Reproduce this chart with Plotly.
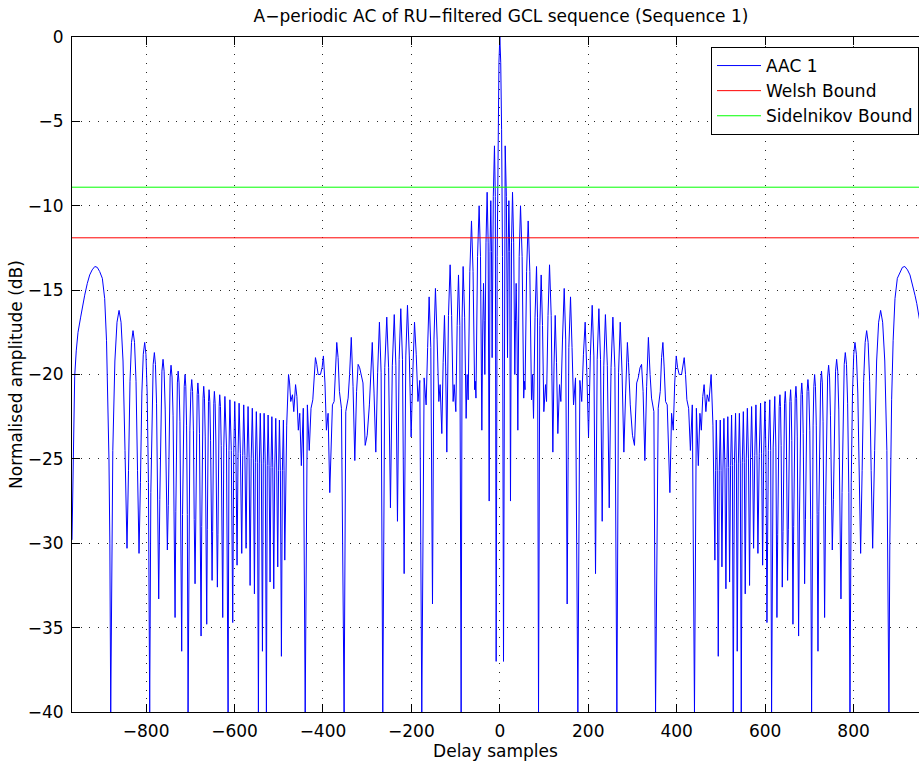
import plotly.graph_objects as go

# Right half (delay >= 0) of the aperiodic autocorrelation magnitude, read from the
# picture (peaks, nulls and lobe shoulders).  The picture is symmetric about delay 0,
# so the left half is the mirror image of these values.
delay_right = [
    0, 2, 4, 6, 8.3,
    10.2, 12.1, 14.75, 17.4,
    18.9, 20.4, 22.25, 24.1,
    26.4, 28.7, 31.3, 33.9,
    35.4, 36.9, 38.8, 40.7,
    43.75, 46.8, 50.4, 54.0, 55.5, 57.0,
    60.55, 64.1, 67.85, 71.6, 73.9, 76.2,
    79.6, 83.0, 85.25, 87.5,
    90.5, 93.5, 96.5, 99.5, 103.3, 105.6,
    109.0, 112.4, 116.15, 119.9,
    122.55, 125.2, 128.2, 131.2, 135.0, 138.0,
    141.8, 145.6, 148.95, 152.3,
    156.1, 159.9, 163.3, 166.7, 171.2, 176.5, 181.0, 185.2,
    189.1, 193.0, 196.8, 200.6,
    204.75, 208.9, 212.65, 216.4,
    220.2, 224.0, 227.75, 231.5,
    235.15, 238.8, 243.1, 247.4,
    251.55, 255.7, 260.2, 264.7,
    268.5, 272.3, 276.4, 280.5,
    284.5, 288.5, 291.0, 295.0, 300.0, 304.5,
    309.5, 313.0, 317.0, 320.5, 324.0, 328.0,
    332.0, 336.0, 339.8, 343.1, 348.4, 352.2,
    358.2, 362.8, 365.8, 368.8, 371.5, 374.8, 378.6, 384.6,
    388.4, 392.2, 395.5, 399.0, 402.0, 405.7, 411.0, 414.0, 417.0, 420.0, 423.0, 427.0, 431.0,
    435.3, 440.2, 444.5, 448.9, 452.5, 455.7, 459.0, 462.0, 466.0, 469.0, 472.9, 475.5, 477.9, 482.0, 486.4,
    488.0, 489.5, 491.8, 494.0,
    496.3, 498.5, 500.4, 502.3,
    504.6, 506.8, 509.1, 511.3,
    513.5, 515.6, 517.6, 519.6,
    521.9, 524.1, 526.0, 527.9,
    530.5, 533.1, 535.0, 536.9,
    539.4, 541.8, 543.9, 546.0,
    548.4, 550.7, 552.9, 555.0,
    557.4, 559.8, 562.3, 564.8,
    567.1, 569.4, 571.7, 573.9,
    576.6, 579.2, 581.5, 583.7,
    586.7, 589.7, 592.0, 594.3,
    596.9, 599.5, 601.8, 604.1,
    607.3, 610.5, 612.6, 614.6,
    618.2, 621.8, 624.3, 626.7,
    628.4, 630.1, 631.8, 633.5, 634.8, 636.2, 637.5, 638.8,
    640.5, 642.2, 643.9, 645.6, 646.9, 648.2, 649.5, 650.8,
    652.5, 654.2, 655.9, 657.6, 658.9, 660.3, 661.6, 662.9,
    664.6, 666.3, 668.0, 669.7, 671.2, 672.7, 674.2, 675.7,
    677.5, 679.3, 681.1, 682.9, 684.5, 686.1, 687.7, 689.3,
    691.2, 693.0, 694.9, 696.8, 698.8, 701.0, 703.0, 705.1,
    706.8, 708.5, 710.2, 711.9, 713.8, 715.7, 717.6, 719.5,
    721.5, 723.5, 725.5, 727.5, 729.3, 731.0, 732.8, 734.5,
    736.8, 739.0, 741.3, 743.6, 745.7, 747.8, 749.8, 751.9,
    754.4, 756.8, 759.3, 761.7, 764.2, 766.6, 769.0, 771.5,
    774.0, 776.4, 778.9, 781.3, 784.0, 786.6, 789.3, 791.9,
    794.7, 797.6, 800.4, 803.2, 806.4, 809.6, 812.8, 816.0,
    819.4, 822.8, 826.2, 829.6, 833.0, 836.4, 839.8, 843.2,
    847.7, 852.2, 856.7, 861.2, 865.8, 870.6, 875.3, 880.0,
    882.0, 884.0, 886.1, 889.5, 893.7, 899.0, 905.0, 910.5, 916.0, 922.0,
    927.6, 933.0, 938.9, 943.0, 948.0, 954.0, 958.0, 961.5, 965.2, 967.6,
]
aac_right_db = [
    0, -1.5, -5.5, -13, -37,
    -9.45, -6.45, -9.45, -19,
    -12.7, -9.7, -12.7, -27.5,
    -12.2, -9.2, -12.2, -20,
    -16.8, -14.6, -17.6, -23.3,
    -13.0, -10.0, -13.0, -21.4, -20.4, -20.9,
    -13.9, -10.9, -13.9, -21.5, -20.0, -22.6,
    -16.6, -13.6, -16.6, -40,
    -17.1, -14.1, -17.1, -22.2, -20.6, -21.6,
    -16.5, -13.5, -16.5, -24.6,
    -19.5, -16.5, -19.3, -23.5, -20.6, -21.6,
    -17.9, -14.9, -17.9, -33.6,
    -18.4, -15.4, -18.4, -21.8, -20.2, -40, -20.35, -21.6,
    -18.8, -16.9, -19.9, -23.7,
    -18.9, -15.9, -18.9, -31.8,
    -19.1, -16.1, -19.1, -28.7,
    -19.45, -16.45, -19.45, -27.9,
    -19.6, -16.6, -19.6, -40,
    -19.9, -16.9, -19.9, -24.6,
    -21.1, -18.1, -19.3, -21.8, -23.6, -24.2,
    -20.5, -20.2, -19.6, -19.4, -21.0, -25.1,
    -20.7, -17.8, -20.0, -21.4, -22.2, -40,
    -22.0, -21.0, -19.0, -18.1, -19.5, -21.6, -21.8, -27.0,
    -22.3, -23.3, -20.5, -18.9, -19.6, -20.0, -20.0, -19.4, -19.0, -20.0, -21.5, -22.0, -24.5,
    -21.8, -40, -22.0, -25.4, -22.3, -23.3, -21.3, -20.6, -22.2, -21.2, -21.6, -20.5, -20.0, -23.0, -31.0,
    -25.7, -22.7, -25.7, -36.7,
    -25.7, -22.7, -25.7, -31.4,
    -25.6, -22.6, -25.6, -32.7,
    -25.5, -22.5, -25.5, -32.3,
    -25.4, -22.4, -25.4, -40,
    -25.3, -22.3, -25.3, -36.4,
    -25.3, -22.3, -25.3, -40,
    -25.2, -22.2, -25.2, -33.0,
    -25.0, -22.0, -25.0, -32.5,
    -24.9, -21.9, -24.9, -30.3,
    -24.8, -21.8, -24.8, -30.6,
    -24.7, -21.7, -24.7, -31.3,
    -24.6, -21.6, -24.6, -34.7,
    -24.5, -21.5, -24.5, -40,
    -24.3, -21.3, -24.3, -34.4,
    -29.5, -24.2, -21.9, -21.2, -21.9, -24.2, -29.5, -32.6,
    -29.3, -24.0, -21.7, -21.0, -21.7, -24.0, -29.3, -32.2,
    -29.2, -23.9, -21.6, -20.9, -21.6, -23.9, -29.2, -34.8,
    -29.0, -23.7, -21.4, -20.7, -21.4, -23.7, -29.0, -35.5,
    -28.8, -23.5, -21.2, -20.5, -21.2, -23.5, -28.8, -32.4,
    -28.6, -23.3, -21.0, -20.3, -21.0, -23.3, -28.6, -40,
    -28.3, -23.0, -20.7, -20.0, -20.7, -23.0, -28.3, -36.4,
    -28.1, -22.8, -20.5, -19.8, -20.5, -22.8, -28.1, -34.4,
    -27.75, -22.45, -20.15, -19.45, -20.15, -22.45, -27.75, -30.4,
    -27.4, -22.1, -19.8, -19.1, -19.8, -22.1, -27.4, -33.3,
    -27.0, -21.7, -19.4, -18.7, -19.4, -21.7, -27.0, -40,
    -26.4, -21.1, -18.8, -18.1, -18.8, -21.1, -26.4, -30.6,
    -25.7, -20.4, -18.1, -17.4, -18.1, -20.4, -25.7, -30.3,
    -24.5, -19.2, -16.9, -16.2, -16.9, -19.2, -24.5, -40,
    -30.0, -25.0, -21.5, -18.0, -15.5, -14.3, -13.9, -13.65, -13.6, -13.8,
    -14.1, -14.6, -15.3, -15.8, -16.6, -17.5, -18.6, -20.1, -24.7, -29.8,
]

bound_names = ["Welsh Bound", "Sidelnikov Bound"]
bound_db = [-11.9, -8.9]
bound_colors = ["rgb(255,0,0)", "rgb(0,255,0)"]

x_ticks = [-800, -600, -400, -200, 0, 200, 400, 600, 800]
y_ticks = [-40, -35, -30, -25, -20, -15, -10, -5, 0]

n = min(len(delay_right), len(aac_right_db))
delay_r = delay_right[:n]
aac_r = aac_right_db[:n]
# full trace: mirror image of the right half for negative delays
delay_all = [-d for d in reversed(delay_r[1:])] + delay_r
aac_all = list(reversed(aac_r[1:])) + aac_r

FONT = "DejaVu Sans"
fig = go.Figure()
fig.add_trace(go.Scatter(x=delay_all, y=aac_all, mode="lines", name="AAC 1",
                         line=dict(color="rgb(0,0,255)", width=1)))
xmax = max(delay_r)
for nm, val, col in zip(bound_names, bound_db, bound_colors):
    fig.add_trace(go.Scatter(x=[-xmax, xmax], y=[val, val], mode="lines", name=nm,
                             line=dict(color=col, width=1)))

axis_common = dict(
    showline=True, linecolor="black", linewidth=1,
    ticks="inside", ticklen=8, tickcolor="black", tickwidth=1,
    showgrid=True, gridcolor="rgba(0,0,0,0.85)", gridwidth=1, griddash="1px,7.7px",
    zeroline=False,
    tickfont=dict(family=FONT, size=17, color="black"),
)

fig.update_layout(
    width=919, height=767,
    margin=dict(l=72, r=0, t=37, b=55),
    paper_bgcolor="white", plot_bgcolor="white",
    font=dict(family=FONT, size=17, color="black"),
    title=dict(text="A\u2212periodic AC of RU\u2212filtered GCL sequence (Sequence 1)",
               x=501 / 919, xref="container", xanchor="center",
               y=1 - 16 / 767, yref="container", yanchor="middle",
               font=dict(family=FONT, size=17, color="black")),
    xaxis=dict(range=[-967.6, 948.0], tickvals=x_ticks, mirror="ticks",
               ticklabelstandoff=4,
               title=dict(text="Delay samples", standoff=4,
                          font=dict(family=FONT, size=17)),
               **axis_common),
    yaxis=dict(range=[-40, 0], tickvals=y_ticks, mirror=False,
               ticklabelstandoff=4,
               title=dict(text="Normalised amplitude (dB)", standoff=0,
                          font=dict(family=FONT, size=17)),
               **axis_common),
    showlegend=True,
    legend=dict(x=1, xanchor="right", y=1 - 10 / 675, yanchor="top",
                bgcolor="white", bordercolor="black", borderwidth=1,
                itemwidth=44,
                font=dict(family=FONT, size=17, color="black"),
                tracegroupgap=0),
)

fig.write_html("out.html")
